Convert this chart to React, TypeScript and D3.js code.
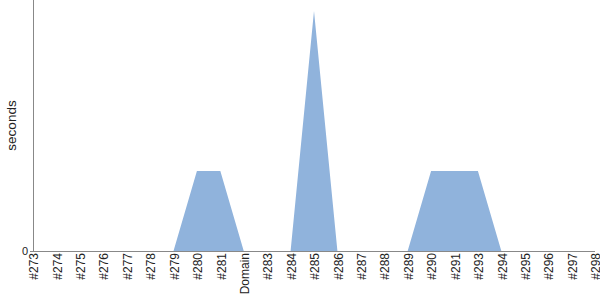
import React from "react";
import * as d3 from "d3";

const categories = ["#273","#274","#275","#276","#277","#278","#279","#280","#281","Domain","#283","#284","#285","#286","#287","#288","#289","#290","#291","#293","#294","#295","#296","#297","#298"];
const values = [0,0,0,0,0,0,0,1,1,0,0,0,3,0,0,0,0,1,1,1,0,0,0,0,0];
const yTicks = [0];

export default function App() {
  const W = 600, H = 300;
  const left = 33, right = 595, top = 0, bottom = 251;
  const x = d3.scalePoint<string>().domain(categories).range([left, right]).padding(0);
  const y = d3.scaleLinear().domain([0, 3.1375]).range([bottom, top]);
  const area = d3.area<number>()
    .x((_, i) => x(categories[i])!)
    .y0(y(0))
    .y1((d) => y(d))
    .curve(d3.curveLinear);
  return (
    <svg width={W} height={H} style={{ position: "absolute", left: 0, top: 0, fontFamily: "'Liberation Sans', Arial, sans-serif" }}>
      <path d={area(values) || ""} fill="#90b3dc" />
      <line x1={left + 0.5} x2={left + 0.5} y1={top} y2={bottom} stroke="#888" />
      <line x1={left} x2={right} y1={bottom + 0.5} y2={bottom + 0.5} stroke="#888" />
      {yTicks.map((t) => (
        <g key={t}>
          <line x1={left - 3} x2={left} y1={y(t) + 0.5} y2={y(t) + 0.5} stroke="#888" />
          <text x={left - 5} y={y(t)} dy="0.35em" textAnchor="end" fontSize={11} fill="#222">{t}</text>
        </g>
      ))}
      {categories.map((c) => (
        <text key={c} transform={`translate(${x(c)! + 1},${bottom + 2}) rotate(-90)`} textAnchor="end" dy="0.35em" fontSize={12} fill="#222">{c}</text>
      ))}
      <text transform={`translate(11,${(top + bottom) / 2}) rotate(-90)`} textAnchor="middle" dy="0.35em" fontSize={13.5} fill="#222">seconds</text>
    </svg>
  );
}
